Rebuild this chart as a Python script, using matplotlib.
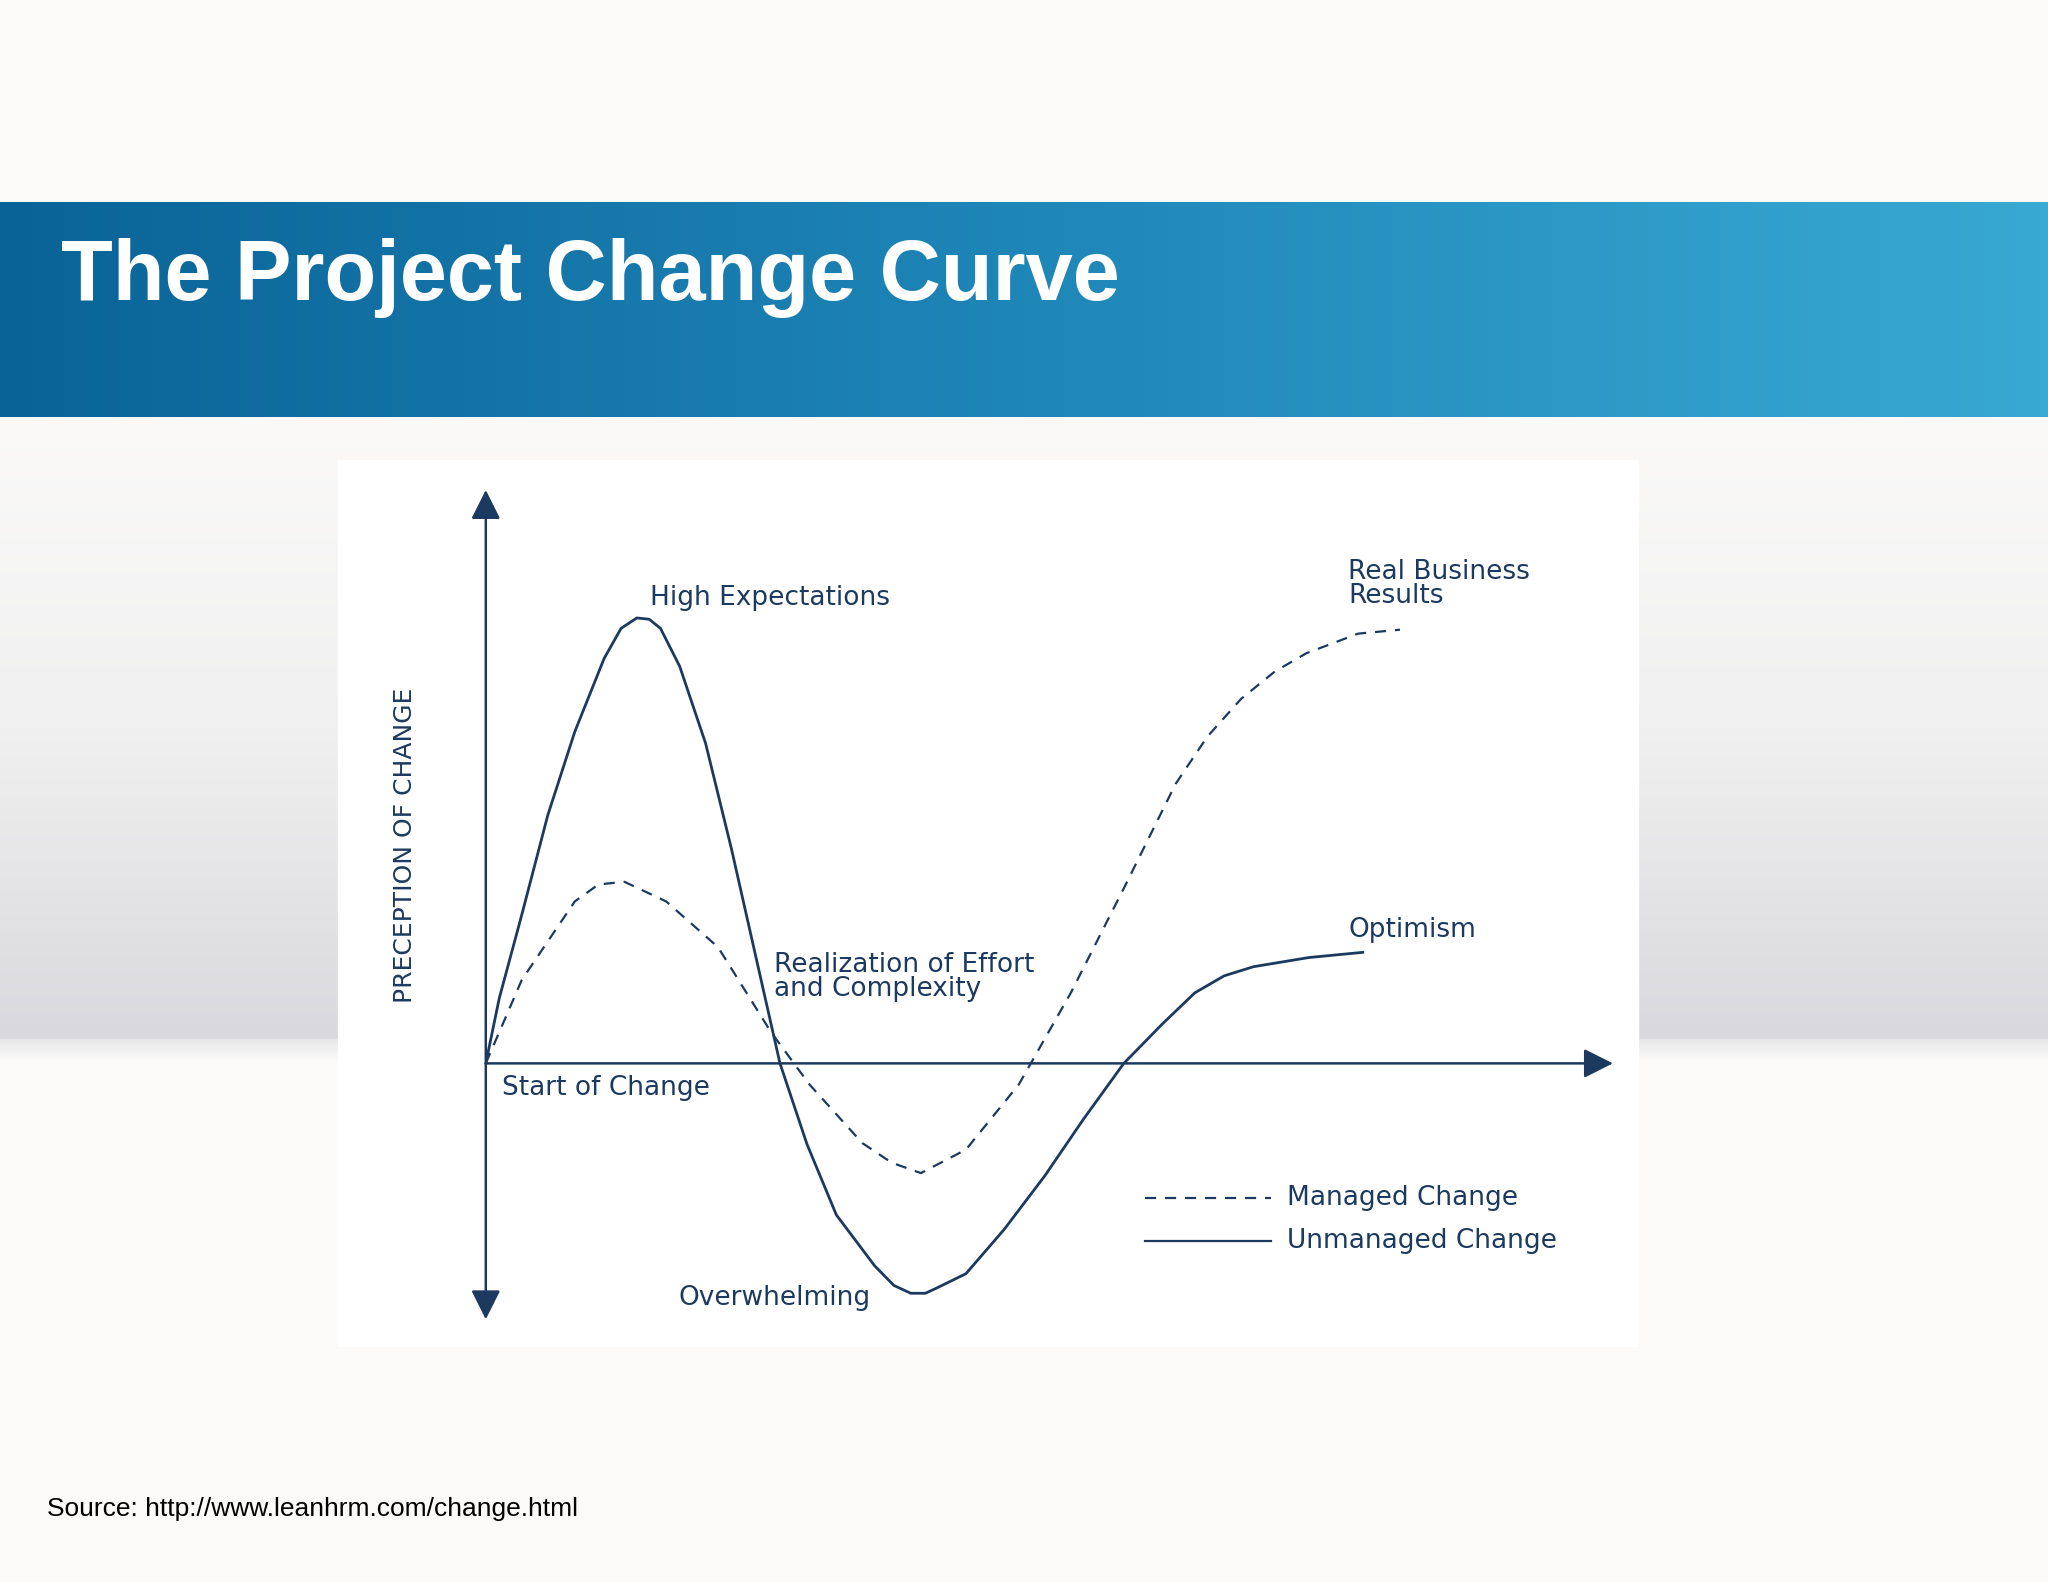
import numpy as np
import matplotlib
matplotlib.use("Agg")
import matplotlib.pyplot as plt
from matplotlib.colors import LinearSegmentedColormap

# Data (time units, perception units)
unmanaged_x = [0, 0.12, 0.32, 0.55, 0.79, 1.05, 1.20, 1.34, 1.45, 1.55, 1.72, 1.95, 2.18, 2.40, 2.61, 2.85, 3.11, 3.45, 3.62, 3.77, 3.90, 4.00, 4.26, 4.60, 4.96, 5.30, 5.66, 6.00, 6.29, 6.55, 6.81, 7.30, 7.78]
unmanaged_y = [0, 0.50, 1.14, 1.90, 2.54, 3.10, 3.33, 3.41, 3.40, 3.33, 3.04, 2.45, 1.64, 0.80, 0.00, -0.62, -1.16, -1.55, -1.70, -1.76, -1.76, -1.72, -1.61, -1.27, -0.86, -0.43, 0.00, 0.30, 0.54, 0.67, 0.74, 0.81, 0.85]
managed_x = [0, 0.32, 0.79, 1.00, 1.23, 1.60, 2.06, 2.53, 2.87, 3.34, 3.60, 3.86, 4.26, 4.73, 5.19, 5.66, 6.12, 6.40, 6.70, 7.00, 7.28, 7.74, 8.11]
managed_y = [0, 0.64, 1.24, 1.37, 1.39, 1.24, 0.89, 0.24, -0.16, -0.61, -0.76, -0.84, -0.66, -0.16, 0.54, 1.34, 2.14, 2.50, 2.79, 3.00, 3.14, 3.29, 3.32]
labels = [
    ("High Expectations", 1.46, 3.56),
    ("Real Business\nResults", 7.65, 3.67),
    ("Realization of Effort\nand Complexity", 2.56, 0.66),
    ("Optimism", 7.65, 1.02),
    ("Start of Change", 0.14, -0.19),
    ("Overwhelming", 1.71, -1.80),
]
legend_items = [("Managed Change", "--", -1.03), ("Unmanaged Change", "-", -1.36)]

navy = "#1c3a60"
fig = plt.figure(figsize=(20.48, 15.82), dpi=100)
fig.patch.set_facecolor("#fbfaf8")

bg = fig.add_axes([0, 0, 1, 1])
bg.set_xlim(0, 1); bg.set_ylim(0, 1); bg.axis("off")
bcm = LinearSegmentedColormap.from_list("b", ["#0a6397", "#1f86b8", "#38a9d2"])
grad = np.linspace(0, 1, 256).reshape(1, -1)
bg.imshow(grad, cmap=bcm, extent=[0, 1, 0.736, 0.872], aspect="auto", zorder=1)
gcm = LinearSegmentedColormap.from_list("g", ["#fbfaf9", "#f0f0f0", "#d9d9dd"])
gg = np.linspace(0, 1, 256).reshape(-1, 1)
bg.imshow(gg, cmap=gcm, extent=[0, 1, 0.343, 0.736], aspect="auto", origin="upper", zorder=1)
bg.imshow(gg, cmap=LinearSegmentedColormap.from_list("h", ["#e6e6e8", "#fbfaf8"]),
          extent=[0, 1, 0.33, 0.343], aspect="auto", origin="upper", zorder=1)
bg.add_patch(plt.Rectangle((0.165, 0.149), 0.635, 0.560, color="white", zorder=2))
bg.text(0.030, 0.824, "The Project Change Curve", color="white", fontsize=61,
        fontweight="bold", family="Liberation Sans", va="center", zorder=3)
bg.text(0.023, 0.046, "Source: http://www.leanhrm.com/change.html", fontsize=19,
        family="Liberation Sans", va="center", zorder=3)

ax = fig.add_axes([0.2372, 0.1660, 0.5504, 0.5243])
ax.set_xlim(0, 10); ax.set_ylim(-1.96, 4.39); ax.axis("off")
ax.patch.set_alpha(0)

ax.plot(unmanaged_x, unmanaged_y, color=navy, lw=2)
ax.plot(managed_x, managed_y, color=navy, lw=1.6, ls=(0, (5, 4)))

ap = dict(arrowstyle="-|>", color=navy, lw=1.8, mutation_scale=45, shrinkA=0, shrinkB=0)
ax.annotate("", xy=(0, 4.39), xytext=(0, 0), arrowprops=ap, annotation_clip=False)
ax.annotate("", xy=(0, -1.96), xytext=(0, 0), arrowprops=ap, annotation_clip=False)
ax.annotate("", xy=(10, 0), xytext=(0, 0), arrowprops=ap, annotation_clip=False)

for t, x, y in labels:
    ax.text(x, y, t, color=navy, fontsize=19, va="center", ha="left", linespacing=0.9)
ax.text(-0.72, 1.67, "PRECEPTION OF CHANGE", rotation=90, color=navy, fontsize=18,
        va="center", ha="center", clip_on=False)
for t, ls, y in legend_items:
    ax.plot([5.85, 6.97], [y, y], color=navy, lw=1.6,
            ls=(0, (5, 4)) if ls == "--" else "-")
    ax.text(7.11, y, t, color=navy, fontsize=19, va="center")

fig.savefig("out.png", dpi=100, facecolor=fig.get_facecolor())
